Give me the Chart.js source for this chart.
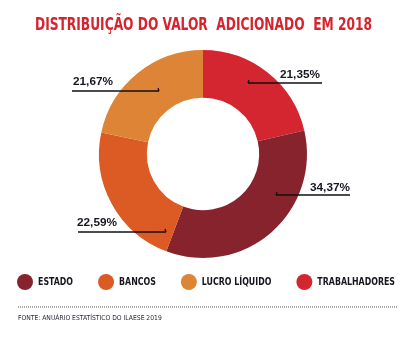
<!DOCTYPE html>
<html>
<head>
<meta charset="utf-8">
<script src="https://cdn.jsdelivr.net/npm/chart.js@4.4.1/dist/chart.umd.min.js"></script>
<style>
  html, body { margin: 0; padding: 0; background: #ffffff; }
  #wrap { width: 403px; height: 339px; position: relative; }
</style>
</head>
<body>
<div id="wrap"><canvas id="c" width="403" height="339"></canvas></div>
<script>
// ---- data ----
const categories = ['TRABALHADORES', 'ESTADO', 'BANCOS', 'LUCRO LÍQUIDO'];
const values = [21.35, 34.37, 22.59, 21.67];
const valueLabels = ['21,35%', '34,37%', '22,59%', '21,67%'];
const legendOrder = ['ESTADO', 'BANCOS', 'LUCRO LÍQUIDO', 'TRABALHADORES'];
const titleText = 'DISTRIBUIÇÃO DO VALOR  ADICIONADO  EM 2018';
const sourceText = 'FONTE: ANUÁRIO ESTATÍSTICO DO ILAESE 2019';

// ---- styles ----
const colors = ['#D42630', '#86232C', '#DC5A23', '#DE8436'];
const NARROW = "'DejaVu Sans Condensed', 'Liberation Sans Narrow', 'Liberation Sans', sans-serif";
const TEXT_DARK = '#16161f';
const TITLE_RED = '#D7232D';

const mctx = document.createElement('canvas').getContext('2d');
function fitSize(text, weight, family, target) {
  mctx.font = weight + ' 100px ' + family;
  return 100 * target / mctx.measureText(text).width;
}
const sourceSize = fitSize(sourceText, 'normal', NARROW, 144);
const labelSize = fitSize('21,35%', 'bold', "'Liberation Sans', sans-serif", 40);

// draw text at a given size, squeezed horizontally to a target width
function squeezedText(ctx, text, font, x, y, targetW, align) {
  ctx.font = font;
  const w = ctx.measureText(text).width;
  const s = Math.min(1, targetW / w);
  ctx.save();
  ctx.translate(x, y);
  ctx.scale(s, 1);
  ctx.textAlign = align;
  ctx.fillText(text, 0, 0);
  ctx.restore();
  return w * s;
}

// leader-label layout
const labelLayout = [
  { tx: 280, ty: 78,  ly: 83,  x0: 248, x1: 322, tickAt: 248 },
  { tx: 310, ty: 191, ly: 195, x0: 276, x1: 350, tickAt: 276 },
  { tx: 77,  ty: 226, ly: 232, x0: 78,  x1: 166, tickAt: 166 },
  { tx: 73,  ty: 85,  ly: 91,  x0: 72,  x1: 159, tickAt: 159 }
];
const legendLayout = { x: 17, y: 282, r: 8, gap: 5, spacing: 25, size: 10.5, targetTotal: 219 };
const titleLayout = { cx: 203.5, baseline: 30, size: 18, width: 337 };

const leaderPlugin = {
  id: 'leaders',
  afterDatasetsDraw(chart) {
    const ctx = chart.ctx;
    const meta = chart.getDatasetMeta(0);
    ctx.save();
    meta.data.forEach((arc, i) => {
      const L = labelLayout[i];
      ctx.strokeStyle = '#111';
      ctx.lineWidth = 1.3;
      ctx.beginPath();
      ctx.moveTo(L.x0, L.ly);
      ctx.lineTo(L.x1, L.ly);
      ctx.stroke();
      ctx.beginPath();
      ctx.moveTo(L.tickAt, L.ly);
      ctx.lineTo(L.tickAt + (L.tickAt === L.x0 ? 1 : -1), L.ly - 3);
      ctx.stroke();
      ctx.fillStyle = TEXT_DARK;
      ctx.font = "bold " + labelSize + "px 'Liberation Sans', sans-serif";
      ctx.textAlign = 'left';
      ctx.textBaseline = 'alphabetic';
      ctx.fillText(valueLabels[i], L.tx, L.ty);
    });
    ctx.restore();
  },
  afterDraw(chart) {
    const ctx = chart.ctx;
    ctx.save();
    // title
    ctx.fillStyle = TITLE_RED;
    ctx.textBaseline = 'alphabetic';
    squeezedText(ctx, titleText, 'bold ' + titleLayout.size + 'px ' + NARROW,
      titleLayout.cx, titleLayout.baseline, titleLayout.width, 'center');
    // legend
    const G = legendLayout;
    const lfont = 'bold ' + G.size + 'px ' + NARROW;
    ctx.font = lfont;
    const total = legendOrder.reduce((s, n) => s + ctx.measureText(n).width, 0);
    const squeeze = Math.min(1, G.targetTotal / total);
    let x = G.x;
    ctx.textBaseline = 'middle';
    legendOrder.forEach(name => {
      const i = categories.indexOf(name);
      ctx.fillStyle = colors[i];
      ctx.beginPath();
      ctx.arc(x + G.r, G.y, G.r, 0, Math.PI * 2);
      ctx.fill();
      ctx.fillStyle = TEXT_DARK;
      const tx = x + 2 * G.r + G.gap;
      ctx.font = lfont;
      const w = ctx.measureText(name).width * squeeze;
      squeezedText(ctx, name, lfont, tx, G.y + 0.5, w, 'left');
      x = tx + w + G.spacing;
    });
    // dotted rule
    ctx.fillStyle = '#555';
    for (let dx = 18; dx < 398; dx += 2) {
      ctx.fillRect(dx, 306.5, 1, 1);
    }
    ctx.restore();
  }
};

const sourceLH = sourceSize * 1.2;

new Chart(document.getElementById('c'), {
  type: 'doughnut',
  data: {
    labels: categories,
    datasets: [{
      data: values,
      backgroundColor: colors,
      borderWidth: 0,
      clip: false
    }]
  },
  options: {
    responsive: false,
    animation: false,
    cutout: '54%',
    layout: { padding: { left: 18, right: 15, top: 50, bottom: 0 } },
    plugins: {
      tooltip: { enabled: false },
      legend: { display: false },
      title: { display: false },
      subtitle: {
        display: true,
        position: 'bottom',
        align: 'start',
        text: sourceText,
        color: '#2b2b3a',
        font: { family: NARROW, size: sourceSize, weight: 'normal' },
        padding: { top: 318 - sourceLH / 2 - 258, bottom: 339 - (318 + sourceLH / 2) }
      }
    }
  },
  plugins: [leaderPlugin]
});
</script>
</body>
</html>
